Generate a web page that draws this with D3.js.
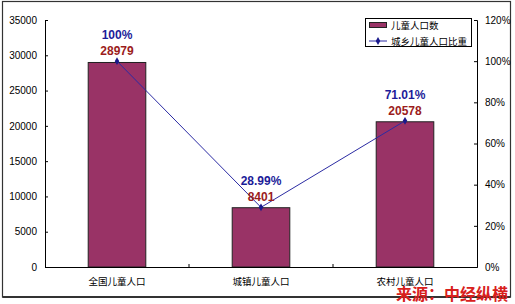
<!DOCTYPE html>
<html><head><meta charset="utf-8">
<script src="https://cdn.jsdelivr.net/npm/d3@7"></script>
<style>body{margin:0;background:#fff}svg{display:block}</style>
</head><body>
<script>
const categories = ["全国儿童人口", "城镇儿童人口", "农村儿童人口"];
const counts = [28979, 8401, 20578];
const shares = [100, 28.99, 71.01];
const shareLabels = ["100%", "28.99%", "71.01%"];
const leftTicks = [0, 5000, 10000, 15000, 20000, 25000, 30000, 35000];
const rightTicks = [0, 20, 40, 60, 80, 100, 120];
const legendNames = ["儿童人口数", "城乡儿童人口比重"];
const sourceText = "来源：中经纵横";

const W = 515, H = 304;
const m = {l: 45, r: 38, t: 20, b: 37};
const svg = d3.select("body").append("svg").attr("width", W).attr("height", H);

// outer frame
svg.append("rect").attr("x", 2.5).attr("y", 1.5).attr("width", 508).attr("height", 295.5)
  .attr("fill", "none").attr("stroke", "#333").attr("stroke-width", 1.2);
svg.append("line").attr("x1", 2.5).attr("x2", 510.5).attr("y1", 297).attr("y2", 297)
  .attr("stroke", "#333").attr("stroke-width", 2);

const x = d3.scaleBand().domain(categories).range([m.l, W - m.r]).paddingInner(0.6).paddingOuter(0.3);
const xb = d3.scaleBand().domain(categories).range([m.l, W - m.r]);
const y = d3.scaleLinear().domain([0, 35000]).range([H - m.b, m.t]);
const y2 = d3.scaleLinear().domain([0, 120]).range([H - m.b, m.t]);

const font = "Arial, 'Liberation Sans', sans-serif";
const cjk = "'Noto Sans CJK SC', sans-serif";

// left axis
const gL = svg.append("g").attr("transform", `translate(${m.l},0)`)
  .call(d3.axisLeft(y).tickValues(leftTicks).tickFormat(d3.format("d")).tickSize(-3).tickPadding(8));
gL.select(".domain").attr("stroke", "#000");
gL.selectAll("text").attr("font-family", font).attr("font-size", 10).attr("fill", "#000");

// right axis
const gR = svg.append("g").attr("transform", `translate(${W - m.r},0)`)
  .call(d3.axisRight(y2).tickValues(rightTicks).tickFormat(d => d + "%").tickSize(-3).tickPadding(8));
gR.select(".domain").attr("stroke", "#000");
gR.selectAll("text").attr("font-family", font).attr("font-size", 10).attr("fill", "#000");

// bars
svg.append("g").selectAll("rect").data(categories).join("rect")
  .attr("x", d => x(d)).attr("width", x.bandwidth())
  .attr("y", (d, i) => y(counts[i])).attr("height", (d, i) => y(0) - y(counts[i]))
  .attr("fill", "#993366").attr("stroke", "#222").attr("stroke-width", 1);

// bottom axis
const gB = svg.append("g").attr("transform", `translate(0,${H - m.b})`)
  .call(d3.axisBottom(xb).tickSize(0).tickPadding(11));
gB.select(".domain").attr("stroke", "#000");
gB.selectAll("text").attr("font-family", cjk).attr("font-size", 9.5).attr("fill", "#000");
svg.append("g").selectAll("line").data(categories.slice(1)).join("line")
  .attr("x1", d => xb(d)).attr("x2", d => xb(d))
  .attr("y1", H - m.b).attr("y2", H - m.b - 3).attr("stroke", "#000");

// line
const cx = d => xb(d) + xb.bandwidth() / 2;
const line = d3.line().x((d, i) => cx(categories[i])).y(d => y2(d));
svg.append("path").datum(shares).attr("d", line).attr("fill", "none")
  .attr("stroke", "#2b2ba3").attr("stroke-width", 1);
svg.append("g").selectAll("path").data(shares).join("path")
  .attr("transform", (d, i) => `translate(${cx(categories[i])},${y2(d)})`)
  .attr("d", d3.symbol(d3.symbolDiamond, 18)).attr("fill", "#1a1a8c");

// labels
svg.append("g").selectAll("text").data(counts).join("text")
  .attr("x", (d, i) => cx(categories[i])).attr("y", (d, i) => y(d) - 7)
  .attr("text-anchor", "middle").attr("font-family", font).attr("font-weight", "bold")
  .attr("font-size", 12).attr("fill", "#9b1c1c").text(d => d);
svg.append("g").selectAll("text").data(shares).join("text")
  .attr("x", (d, i) => cx(categories[i])).attr("y", (d, i) => y2(d) - 22)
  .attr("text-anchor", "middle").attr("font-family", font).attr("font-weight", "bold")
  .attr("font-size", 12).attr("fill", "#1c1c99").text((d, i) => shareLabels[i]);

// legend
const lg = svg.append("g");
lg.append("rect").attr("x", 365.5).attr("y", 18.5).attr("width", 106).attr("height", 28)
  .attr("fill", "#fff").attr("stroke", "#000");
lg.append("rect").attr("x", 369.5).attr("y", 22.5).attr("width", 17).attr("height", 5)
  .attr("fill", "#993366").attr("stroke", "#222");
lg.append("line").attr("x1", 369).attr("x2", 387).attr("y1", 41).attr("y2", 41)
  .attr("stroke", "#2b2ba3");
lg.append("path").attr("transform", "translate(378,41)")
  .attr("d", d3.symbol(d3.symbolDiamond, 18)).attr("fill", "#1a1a8c");
lg.selectAll("text").data(legendNames).join("text")
  .attr("x", 391).attr("y", (d, i) => 28.5 + i * 16)
  .attr("font-family", cjk).attr("font-size", 9.5).attr("fill", "#000").text(d => d);

// source
svg.append("text").attr("x", 508).attr("y", 300).attr("text-anchor", "end")
  .attr("font-family", cjk).attr("font-weight", "bold").attr("font-size", 16)
  .attr("fill", "#d8201c").text(sourceText);
</script>
</body></html>
